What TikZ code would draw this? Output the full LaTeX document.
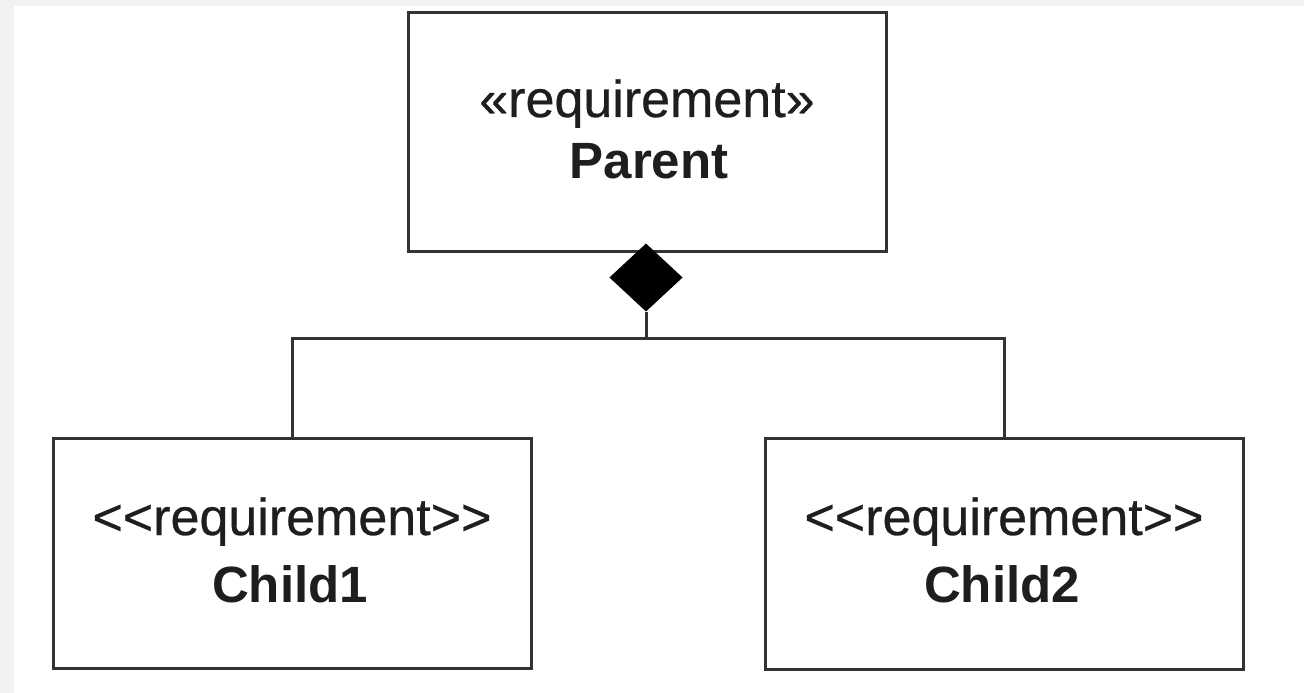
\documentclass[tikz,border=0pt]{standalone}
\usepackage{fontspec}
\setmainfont{Liberation Sans}
\newfontfamily\stereofont[FakeBold=0.5]{Liberation Sans}
\usetikzlibrary{shapes.geometric}
\definecolor{edge}{HTML}{333333}
\definecolor{ink}{HTML}{1E1E1E}
\definecolor{frame}{HTML}{F2F2F2}
\begin{document}
\begin{tikzpicture}[x=1pt,y=-1pt,
  box/.style={draw=edge,line width=3pt,fill=white,minimum width=478pt,inner sep=0pt},
  stereo/.style={anchor=base,inner sep=0pt,text=ink,font=\stereofont\fontsize{52}{60}\selectfont},
  title/.style={anchor=base,inner sep=0pt,text=ink,font=\fontsize{51}{60}\selectfont\bfseries},
  wire/.style={draw=edge,line width=3pt}]
\useasboundingbox (0,0) rectangle (1304,693);
\fill[frame] (0,0) rectangle (1304,693);
\fill[white] (14,6) rectangle (1304,693);
% boxes
\node[box,minimum height=238pt] (parent) at (647,132) {};
\node[box,minimum height=230pt] (c1) at (292,553.5) {};
\node[box,minimum height=231pt] (c2) at (1004,553.5) {};
% texts
\node[stereo] (pst) at (647,117) {«requirement»};
\node[title] (pnm) at (649,178) {Parent};
\node[stereo] (c1st) at (292,535) {<{}<requirement>{}>};
\node[title] (c1nm) at (290,602) {Child1};
\node[stereo] (c2st) at (1004,535) {<{}<requirement>{}>};
\node[title] (c2nm) at (1002,602) {Child2};
% connectors
\coordinate (j) at (646,338);
\node[diamond,fill=black,draw=black,line width=1pt,inner sep=0pt,minimum width=72pt,minimum height=67pt] (dia) at (646,277.5) {};
\draw[wire] (c1.north) |- (j) -| (c2.north);
\draw[wire] (j) -- (dia.south);
\end{tikzpicture}
\end{document}
